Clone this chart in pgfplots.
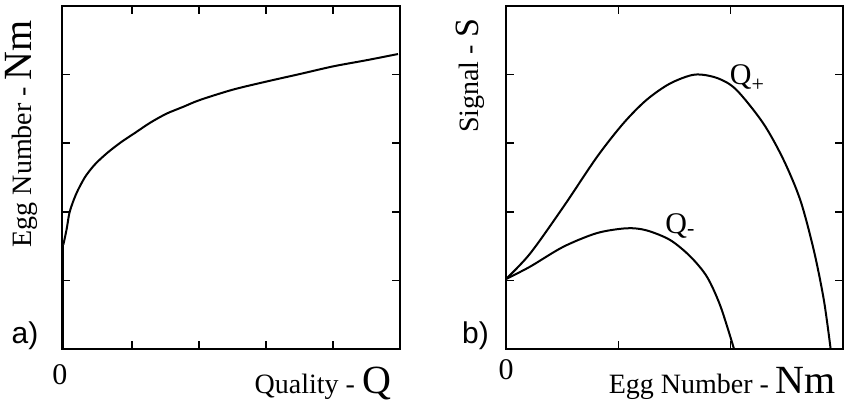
\documentclass[border=0pt]{standalone}
\usepackage{fontspec}
\setmainfont{Liberation Serif}
\setsansfont{Liberation Sans}
\usepackage{pgfplots}
\pgfplotsset{compat=1.18}

\pgfplotsset{
  panel/.style={
    anchor=south west, scale only axis,
    height=171.5pt,
    ymin=0, ymax=5,
    ytick={1,2,3,4},
    xticklabels={}, yticklabels={},
    tick align=inside,
    major tick length=4pt,
    tick style={line width=0.8pt, black},
    axis line style={line width=1pt},
  },
  curve/.style={black, line width=1pt, no markers},
}

\begin{document}
\begin{tikzpicture}
\path[use as bounding box] (0,0) rectangle (426pt,201.5pt);

% a) egg number against quality
\begin{axis}[panel, at={(31pt,27pt)}, width=169pt,
  xmin=-0.05, xmax=5, xtick={1,2,3,4}]
  \addplot[curve] coordinates {(-0.03,0) (-0.03,1.52)};
  \addplot[curve, smooth] coordinates {
    (-0.03,1.52) (0.02,1.75) (0.06,1.98) (0.12,2.16) (0.19,2.32)
    (0.29,2.50) (0.38,2.62) (0.47,2.72) (0.64,2.87) (0.84,3.02) (1.04,3.15)
    (1.27,3.30) (1.51,3.43) (1.76,3.53) (2.01,3.63) (2.50,3.78) (3.01,3.90)
    (3.51,4.01) (4.00,4.12) (4.50,4.21) (4.97,4.30)
  };
\end{axis}

% b) signal against egg number
\begin{axis}[panel, at={(253pt,27pt)}, width=168.5pt,
  xmin=0, xmax=3, xtick={1,2}]
  \addplot[curve, smooth] coordinates {
    (0,1.02) (0.214,1.39) (0.51,2.07) (0.81,2.80) (1.045,3.29) (1.25,3.63)
    (1.46,3.87) (1.68,4.00) (1.88,3.95) (2.05,3.78) (2.29,3.29) (2.47,2.76)
    (2.62,2.17) (2.74,1.44) (2.83,0.71) (2.89,0)
  };
  \addplot[curve, smooth] coordinates {
    (0,1.02) (0.214,1.20) (0.51,1.49) (0.81,1.69) (1.075,1.76) (1.25,1.73)
    (1.46,1.59) (1.64,1.35) (1.79,1.05) (1.91,0.62) (2.03,0)
  };
  \node[anchor=base west, inner sep=0pt, font=\fontsize{15}{17}\selectfont]
    at (axis cs:1.99,3.85) {Q\raisebox{-0.45ex}{\fontsize{11}{13}\selectfont +}};
  \node[anchor=base west, inner sep=0pt, font=\fontsize{15}{17}\selectfont]
    at (axis cs:1.415,1.69) {Q\raisebox{-0.2ex}{\fontsize{11}{13}\selectfont -}};
\end{axis}

% labels
\node[rotate=90, anchor=base east] at (16pt,195pt)
  {\fontsize{14}{16}\selectfont Egg Number - \fontsize{20}{22}\selectfont Nm};
\node[anchor=base east] at (199pt,5pt)
  {\fontsize{14}{16}\selectfont Quality - \fontsize{20}{22}\selectfont Q};
\node[rotate=90, anchor=base east] at (239pt,195.5pt)
  {\fontsize{14}{16}\selectfont Signal - \fontsize{17}{19}\selectfont S};
\node[anchor=base east] at (421.5pt,5pt)
  {\fontsize{14}{16}\selectfont Egg Number - \fontsize{20}{22}\selectfont Nm};
\node[font=\fontsize{15}{17}\selectfont] at (30pt,14pt) {0};
\node[font=\fontsize{15}{17}\selectfont] at (253pt,16.5pt) {0};
\node[font=\sffamily\fontsize{15}{17}\selectfont] at (12.5pt,33.5pt) {a)};
\node[font=\sffamily\fontsize{15}{17}\selectfont] at (237.75pt,33.5pt) {b)};
\end{tikzpicture}
\end{document}
